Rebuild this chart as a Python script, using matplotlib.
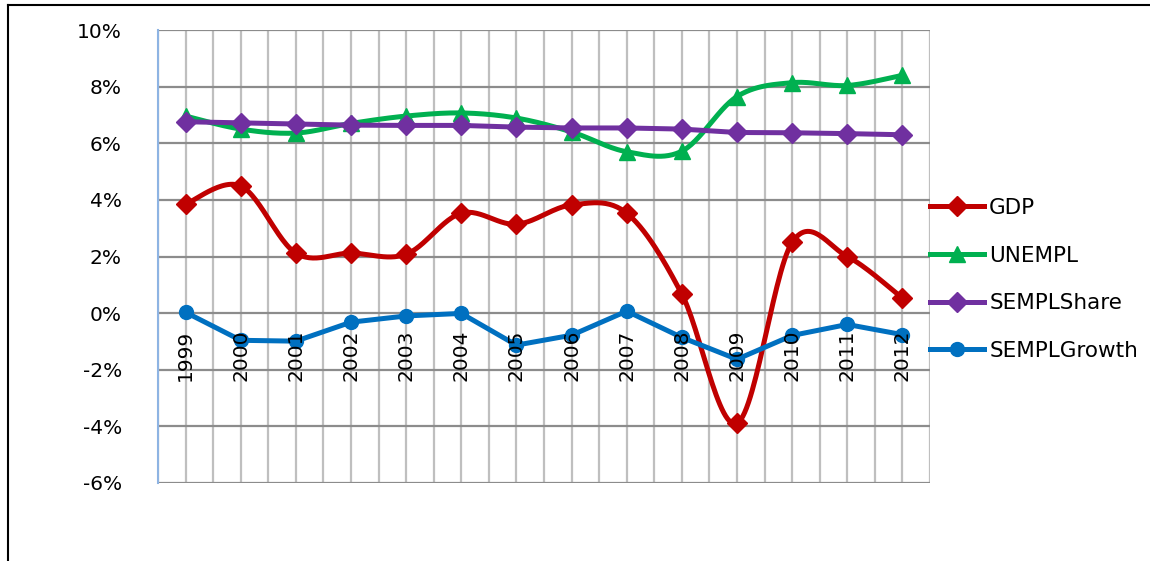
import numpy as np
import matplotlib
matplotlib.use("Agg")
import matplotlib.pyplot as plt
from matplotlib.lines import Line2D
from matplotlib.ticker import MultipleLocator, FuncFormatter, NullFormatter

years = ["1999", "2000", "2001", "2002", "2003", "2004", "2005", "2006",
         "2007", "2008", "2009", "2010", "2011", "2012"]
gdp = [3.85, 4.49, 2.12, 2.12, 2.08, 3.53, 3.14, 3.82, 3.53, 0.67, -3.89, 2.50, 2.00, 0.53]
unempl = [6.96, 6.50, 6.36, 6.70, 6.96, 7.07, 6.89, 6.40, 5.70, 5.72, 7.65, 8.14, 8.04, 8.40]
sempl_share = [6.76, 6.72, 6.68, 6.64, 6.63, 6.63, 6.57, 6.54, 6.54, 6.50, 6.38, 6.37, 6.34, 6.30]
sempl_growth = [0.03, -0.96, -0.99, -0.32, -0.10, -0.01, -1.13, -0.78, 0.07, -0.86, -1.63, -0.79, -0.40, -0.76]

plt.rcParams['font.family'] = ['DejaVu Sans']

def smooth(x, y, n=30):
    # Bezier smoothing like a spreadsheet's "smoothed line"
    x = np.asarray(x, float); y = np.asarray(y, float)
    P = np.column_stack([x, y])
    out = []
    for i in range(len(P) - 1):
        p0 = P[i - 1] if i > 0 else P[i]
        p1 = P[i]; p2 = P[i + 1]
        p3 = P[i + 2] if i + 2 < len(P) else P[i + 1]
        c1 = p1 + (p2 - p0) / 6.0
        c2 = p2 - (p3 - p1) / 6.0
        t = np.linspace(0, 1, n)[:, None]
        seg = ((1 - t) ** 3) * p1 + 3 * ((1 - t) ** 2) * t * c1 + 3 * (1 - t) * t ** 2 * c2 + t ** 3 * p2
        if i > 0:
            seg = seg[1:]
        out.append(seg)
    out = np.vstack(out)
    return out[:, 0], out[:, 1]

fig = plt.figure(figsize=(11.5, 5.61), dpi=100)
ax = fig.add_axes([158/1150, 1-483/561, (930-158)/1150, (483-30)/561])

x = np.arange(len(years))
gd = np.array(gdp) / 100
un = np.array(unempl) / 100
ss = np.array(sempl_share) / 100
sg = np.array(sempl_growth) / 100

lw = 3.6
c_gdp, c_un, c_ss, c_sg = "#C00000", "#00B050", "#7030A0", "#0070C0"

sx, sy = smooth(x, gd)
ax.plot(sx, sy, color=c_gdp, lw=lw, zorder=3, solid_capstyle='round')
ax.plot(x, gd, ls='none', marker='D', ms=10, color=c_gdp, zorder=4)

sx, sy = smooth(x, un)
ax.plot(sx, sy, color=c_un, lw=lw, zorder=3, solid_capstyle='round')
ax.plot(x, un, ls='none', marker='^', ms=12, color=c_un, zorder=4)

ax.plot(x, ss, color=c_ss, lw=lw, marker='D', ms=10, zorder=5)
ax.plot(x, sg, color=c_sg, lw=lw, marker='o', ms=10, zorder=5)

ax.set_xlim(-0.5, len(years) - 0.5)
ax.set_ylim(-0.06, 0.10)
ax.yaxis.set_major_locator(MultipleLocator(0.02))
ax.yaxis.set_major_formatter(FuncFormatter(lambda v, p: f"{v*100:.0f}%"))
ax.set_xticks(x)
ax.xaxis.set_major_formatter(NullFormatter())
ax.set_xticks(np.arange(-0.5, len(years), 1.0), minor=True)

# category labels drawn on top of the series, hanging below the 0% line
for xi, lab in zip(x, years):
    ax.annotate(lab, xy=(xi, 0), xytext=(0, -12), textcoords='offset points',
                rotation=90, ha='center', va='top', fontsize=14.5, zorder=10,
                annotation_clip=False)

ax.grid(True, axis='y', which='major', color='#8c8c8c', lw=1.6, zorder=1)
ax.grid(True, axis='x', which='both', color='#bfbfbf', lw=1.6, zorder=1)
ax.set_axisbelow(True)

for s in ['top', 'right', 'bottom']:
    ax.spines[s].set_visible(False)
ax.spines['left'].set_color('#8EB4E3')
ax.spines['left'].set_linewidth(1.5)
ax.tick_params(axis='x', which='both', length=0)
ax.tick_params(axis='y', length=0, pad=26, labelsize=14.5)

handles = [
    Line2D([], [], color=c_gdp, lw=lw, marker='D', ms=10),
    Line2D([], [], color=c_un, lw=lw, marker='^', ms=11),
    Line2D([], [], color=c_ss, lw=lw, marker='D', ms=10),
    Line2D([], [], color=c_sg, lw=lw, marker='o', ms=10),
]
labels = ["GDP", "UNEMPL", "SEMPLShare", "SEMPLGrowth"]
fig.legend(handles, labels, loc='upper left', bbox_to_anchor=(930/1150, 1-198/561),
           frameon=False, fontsize=15.5, handlelength=2.5, handletextpad=0.25,
           labelspacing=1.28, borderaxespad=0, borderpad=0)

fig.add_artist(Line2D([8/1150, 1], [1-5/561, 1-5/561], transform=fig.transFigure, color='black', lw=1.5))
fig.add_artist(Line2D([8/1150, 8/1150], [0, 1-5/561], transform=fig.transFigure, color='black', lw=1.5))

fig.savefig("out.png", dpi=100)
